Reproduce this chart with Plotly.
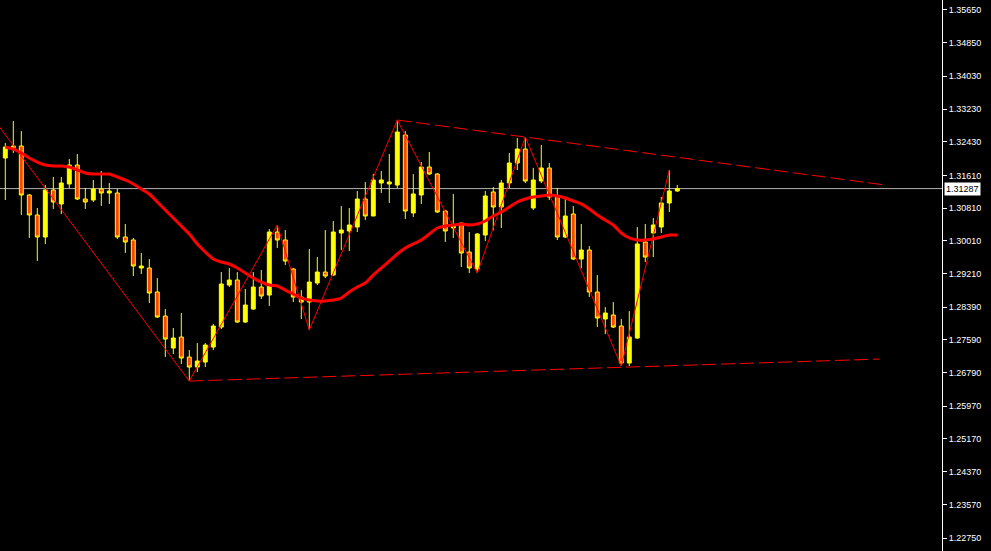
import plotly.graph_objects as go

# ---- Candle data (price values) ----
opens = [1.32034, 1.32278, 1.32327, 1.31130, 1.30642, 1.30104, 1.31252, 1.30911, 1.31399, 1.31863,
         1.31032, 1.31008, 1.31277, 1.31179, 1.31179, 1.30104, 1.30031, 1.29346, 1.29346, 1.28760,
         1.28173, 1.27391, 1.27660, 1.27171, 1.26927, 1.27049, 1.27416, 1.27904, 1.28931, 1.29053,
         1.28027, 1.28344, 1.28882, 1.28686, 1.30226, 1.30031, 1.29322, 1.28515, 1.28515, 1.28980,
         1.29248, 1.29175, 1.30202, 1.30251, 1.30348, 1.31032, 1.30617, 1.31423, 1.31399, 1.31374,
         1.32596, 1.30691, 1.31130, 1.31814, 1.31643, 1.30739, 1.30324, 1.30446, 1.29737, 1.29322,
         1.30153, 1.31204, 1.30837, 1.31423, 1.31912, 1.32253, 1.30813, 1.31472, 1.31790, 1.31106,
         1.30104, 1.30666, 1.29566, 1.29786, 1.28760, 1.28100, 1.28198, 1.27929, 1.27025, 1.27636,
         1.29982, 1.30202, 1.30348, 1.30935, 1.31228]
highs = [1.32400, 1.32938, 1.32693, 1.31155, 1.30813, 1.31374, 1.31570, 1.31570, 1.32009, 1.32131,
         1.31301, 1.31497, 1.31717, 1.31423, 1.31277, 1.30422, 1.30080, 1.29713, 1.29566, 1.29102,
         1.28344, 1.27880, 1.28247, 1.27342, 1.27514, 1.27514, 1.27978, 1.29248, 1.29346, 1.29248,
         1.28833, 1.29248, 1.29297, 1.30299, 1.30397, 1.30275, 1.29346, 1.28808, 1.29811, 1.29615,
         1.30275, 1.30495, 1.30862, 1.30813, 1.31228, 1.31448, 1.31643, 1.31717, 1.32131, 1.32962,
         1.32693, 1.31643, 1.31936, 1.32180, 1.31667, 1.30764, 1.31155, 1.30446, 1.30226, 1.30202,
         1.31228, 1.31326, 1.31497, 1.32156, 1.32522, 1.32547, 1.31790, 1.32351, 1.31912, 1.31301,
         1.31032, 1.30862, 1.30422, 1.29884, 1.29175, 1.28393, 1.28515, 1.28100, 1.28295, 1.30348,
         1.30422, 1.30568, 1.31081, 1.31741, 1.31374]
lows = [1.31008, 1.32156, 1.30642, 1.30080, 1.29517, 1.29933, 1.30788, 1.30666, 1.31301, 1.31008,
        1.30788, 1.30959, 1.30862, 1.30911, 1.30055, 1.29713, 1.29151, 1.29199, 1.28491, 1.28124,
        1.27171, 1.27245, 1.27000, 1.26585, 1.26805, 1.26927, 1.27342, 1.27856, 1.28882, 1.28002,
        1.28002, 1.28320, 1.28589, 1.28418, 1.29835, 1.29420, 1.28515, 1.28100, 1.27831, 1.28931,
        1.29102, 1.29151, 1.29786, 1.29762, 1.30226, 1.30519, 1.30617, 1.31179, 1.30935, 1.31301,
        1.30544, 1.30593, 1.30911, 1.31619, 1.30691, 1.29982, 1.30080, 1.29371, 1.29224, 1.29224,
        1.30006, 1.30275, 1.30324, 1.31301, 1.31741, 1.31423, 1.30764, 1.31423, 1.31008, 1.30031,
        1.30080, 1.29542, 1.29346, 1.28637, 1.27904, 1.27733, 1.27880, 1.26951, 1.26951, 1.27611,
        1.29493, 1.29615, 1.30202, 1.30715, 1.31204]
closes = [1.32302, 1.32327, 1.31130, 1.30642, 1.30104, 1.31252, 1.30959, 1.31423, 1.31863, 1.31032,
          1.30959, 1.31277, 1.31179, 1.31228, 1.30104, 1.29982, 1.29395, 1.29395, 1.28735, 1.28149,
          1.27611, 1.27636, 1.27147, 1.26927, 1.27074, 1.27465, 1.27929, 1.28955, 1.29053, 1.28027,
          1.28442, 1.28882, 1.28662, 1.30226, 1.30031, 1.29517, 1.28637, 1.28637, 1.29004, 1.29248,
          1.29151, 1.30226, 1.30275, 1.30397, 1.31032, 1.30617, 1.31497, 1.31497, 1.31448, 1.32669,
          1.30739, 1.31155, 1.31814, 1.31643, 1.30715, 1.30251, 1.30397, 1.29713, 1.29346, 1.30177,
          1.31106, 1.30837, 1.31423, 1.31912, 1.32253, 1.31472, 1.31497, 1.31790, 1.31081, 1.30104,
          1.30617, 1.29566, 1.29786, 1.28760, 1.28124, 1.28247, 1.27904, 1.27025, 1.27660, 1.29933,
          1.29615, 1.30397, 1.30935, 1.31228, 1.31287]

# Moving average values
ma_values = [1.32302, 1.32253, 1.32156, 1.32034, 1.31936, 1.31863, 1.31839, 1.31839, 1.31814, 1.31741,
             1.31668, 1.31643, 1.31643, 1.31643, 1.31570, 1.31497, 1.31399, 1.31277, 1.31155, 1.30959,
             1.30764, 1.30568, 1.30373, 1.30177, 1.29933, 1.29737, 1.29566, 1.29493, 1.29444, 1.29346,
             1.29224, 1.29102, 1.29004, 1.28931, 1.28907, 1.28808, 1.28711, 1.28613, 1.28564, 1.28540,
             1.28540, 1.28564, 1.28613, 1.28760, 1.28882, 1.28980, 1.29175, 1.29346, 1.29517, 1.29688,
             1.29835, 1.29933, 1.30031, 1.30177, 1.30324, 1.30373, 1.30397, 1.30422, 1.30397, 1.30422,
             1.30495, 1.30617, 1.30715, 1.30837, 1.30959, 1.31032, 1.31081, 1.31106, 1.31130, 1.31106,
             1.31057, 1.30984, 1.30911, 1.30788, 1.30642, 1.30519, 1.30397, 1.30202, 1.30080, 1.30031,
             1.30031, 1.30055, 1.30104, 1.30153, 1.30153]

# ZigZag pivots (bar index, price)
zz_idx = [-1, 23, 34, 38, 49, 59, 65, 77, 83]
zz_price = [1.32865, 1.26585, 1.30397, 1.27831, 1.32962, 1.29224, 1.32547, 1.26951, 1.31741]

# Dashed trend lines (bar index, price)
top_idx = [49, 110]
top_price = [1.32962, 1.31374]
bot_idx = [23, 109.3]
bot_price = [1.26585, 1.27122]

current_price = 1.31287

y_tickvals = [1.35650, 1.34850, 1.34030, 1.33230, 1.32430, 1.31610, 1.30810, 1.30010, 1.29210,
              1.28390, 1.27590, 1.26790, 1.25970, 1.25170, 1.24370, 1.23570, 1.22750]
y_ticktext = ["%.5f" % v for v in y_tickvals]

idx = list(range(len(opens)))

fig = go.Figure()
fig.add_trace(go.Candlestick(
    x=idx, open=opens, high=highs, low=lows, close=closes,
    increasing=dict(line=dict(color="#FFFF00", width=1), fillcolor="#FFFF00"),
    decreasing=dict(line=dict(color="#FFFF00", width=1), fillcolor="#FF4500"),
    whiskerwidth=0, showlegend=False, hoverinfo="skip"))

fig.add_trace(go.Scatter(x=idx, y=ma_values, mode="lines", line_shape="spline",
                         line=dict(color="#FF0000", width=3, smoothing=0.6),
                         showlegend=False, hoverinfo="skip"))
fig.add_trace(go.Scatter(x=zz_idx, y=zz_price, mode="lines",
                         line=dict(color="#FF0000", width=1), showlegend=False, hoverinfo="skip"))
fig.add_trace(go.Scatter(x=top_idx, y=top_price, mode="lines",
                         line=dict(color="#FF0000", width=1, dash="14px,5px"), showlegend=False, hoverinfo="skip"))
fig.add_trace(go.Scatter(x=bot_idx, y=bot_price, mode="lines",
                         line=dict(color="#FF0000", width=1, dash="14px,5px"), showlegend=False, hoverinfo="skip"))

fig.add_shape(type="line", xref="paper", x0=0, x1=1, yref="y", y0=current_price, y1=current_price,
              line=dict(color="#B0B0B0", width=1), layer="below")

fig.add_annotation(xref="paper", x=1, xanchor="left", xshift=2, yref="y", y=current_price,
                   text="%.5f" % current_price, showarrow=False,
                   bgcolor="#FFFFFF", font=dict(color="#000000", size=9, family="Liberation Sans"),
                   borderpad=1)

fig.update_layout(
    width=991, height=551,
    margin=dict(l=0, r=49, t=0, b=0),
    paper_bgcolor="#000000", plot_bgcolor="#000000",
    boxgap=0.3,
    xaxis=dict(range=[-0.6625, 117.09], visible=False, rangeslider=dict(visible=False),
               showgrid=False, zeroline=False),
    yaxis=dict(side="right", range=[1.22433, 1.35894], tickvals=y_tickvals, ticktext=y_ticktext,
               ticks="outside", ticklen=4, tickcolor="#FFFFFF", showline=True, linecolor="#FFFFFF",
               linewidth=1, showgrid=False, zeroline=False,
               tickfont=dict(color="#FFFFFF", size=9, family="Liberation Sans")),
)

fig.write_html("out.html", config={"displayModeBar": False},
               post_script="document.body.style.margin='0';document.body.style.background='#000';")
